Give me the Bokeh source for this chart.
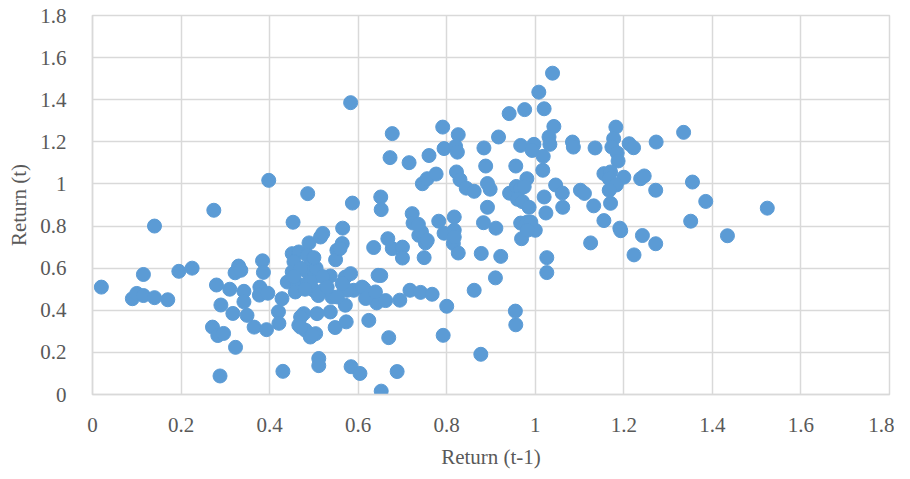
from bokeh.plotting import figure
from bokeh.models import FixedTicker, Range1d
from bokeh.embed import file_html
from bokeh.resources import INLINE

# Return (t-1) values
x_prev = [
    0.02, 0.09, 0.10, 0.115, 0.115, 0.14, 0.17, 0.14, 0.195, 0.225,
    0.274, 0.271, 0.283, 0.296, 0.28, 0.29, 0.31, 0.317, 0.323, 0.288,
    0.322, 0.33, 0.335, 0.342, 0.342, 0.349, 0.365, 0.393, 0.384, 0.386,
    0.378, 0.377, 0.396, 0.428, 0.42, 0.421, 0.43, 0.398, 0.486, 0.453,
    0.451, 0.466, 0.489, 0.515, 0.52, 0.455, 0.485, 0.492, 0.451, 0.44,
    0.462, 0.458, 0.485, 0.485, 0.5, 0.5, 0.492, 0.522, 0.537, 0.541,
    0.552, 0.549, 0.564, 0.565, 0.559, 0.571, 0.583, 0.568, 0.59, 0.575,
    0.571, 0.553, 0.609, 0.62, 0.613, 0.642, 0.635, 0.624, 0.645, 0.477,
    0.507, 0.537, 0.466, 0.481, 0.492, 0.504, 0.548, 0.573, 0.511, 0.511,
    0.584, 0.604, 0.652, 0.47, 0.47, 0.496, 0.617, 0.639, 0.662, 0.651,
    0.564, 0.47, 0.505, 0.52, 0.48, 0.51, 0.53, 0.455, 0.50,
    0.677, 0.70, 0.70, 0.749, 0.752, 0.737, 0.815, 0.826, 0.878, 0.922,
    0.969, 0.667, 0.794, 0.694, 0.717, 0.741, 0.767, 0.80, 0.862, 0.91,
    0.955, 0.956, 0.669, 0.792, 0.877, 0.688, 0.911, 1.0,
    0.583, 0.677, 0.672, 0.715, 0.791, 0.826, 0.794, 0.82, 0.824, 0.76,
    0.884, 0.917, 0.941, 0.976, 1.008, 1.039, 1.02, 1.042, 1.031, 1.033,
    0.967, 0.997, 0.993, 1.018, 1.017, 0.888, 0.956, 1.084, 1.086, 1.135,
    1.182, 1.177, 1.173, 1.185, 1.187, 1.212, 1.222, 1.273, 1.335, 0.745,
    0.756, 0.776, 0.822, 0.83, 0.844, 0.862, 0.892, 0.898, 0.942, 0.957,
    0.966, 0.981, 0.975, 0.96, 0.971, 0.986, 1.02, 1.024, 1.046, 1.061,
    1.062, 1.102, 1.111, 1.132, 1.155, 1.17, 1.155, 1.17, 1.167, 1.2,
    1.238, 1.246, 1.183, 1.167, 1.272, 1.355, 1.385, 1.524, 1.191, 1.193,
    1.351, 1.242, 1.272, 1.434, 1.223, 1.026, 1.026, 1.125, 0.651, 0.652,
    0.587, 0.743, 0.722, 0.724, 0.736, 0.782, 0.817, 0.883, 0.967, 0.982,
    0.892, 0.817, 0.817, 0.756, 0.978, 0.99, 0.982,
]

# Return (t) values
y_curr = [
    0.51, 0.455, 0.48, 0.47, 0.57, 0.46, 0.45, 0.80, 0.585, 0.60,
    0.875, 0.32, 0.28, 0.29, 0.52, 0.425, 0.50, 0.385, 0.224, 0.088,
    0.578, 0.61, 0.59, 0.49, 0.44, 0.376, 0.32, 0.308, 0.635, 0.58,
    0.51, 0.472, 0.481, 0.455, 0.393, 0.338, 0.11, 1.017, 0.954, 0.818,
    0.669, 0.677, 0.72, 0.748, 0.765, 0.63, 0.661, 0.614, 0.582, 0.534,
    0.527, 0.487, 0.527, 0.582, 0.558, 0.495, 0.534, 0.495, 0.563, 0.463,
    0.685, 0.64, 0.717, 0.79, 0.693, 0.558, 0.574, 0.51, 0.495, 0.495,
    0.424, 0.463, 0.51, 0.463, 0.503, 0.435, 0.698, 0.352, 0.566, 0.384,
    0.384, 0.392, 0.329, 0.305, 0.273, 0.289, 0.318, 0.345, 0.171, 0.137,
    0.132, 0.10, 0.016, 0.368, 0.32, 0.281, 0.456, 0.487, 0.446, 0.565,
    0.527, 0.60, 0.60, 0.56, 0.50, 0.47, 0.51, 0.56, 0.65,
    0.693, 0.70, 0.648, 0.65, 0.72, 0.756, 0.717, 0.672, 0.67, 0.656,
    0.74, 0.74, 0.766, 0.448, 0.495, 0.485, 0.476, 0.419, 0.495, 0.554,
    0.396, 0.331, 0.27, 0.281, 0.191, 0.109, 0.79, 0.78,
    1.386, 1.239, 1.125, 1.101, 1.27, 1.234, 1.168, 1.178, 1.151, 1.135,
    1.171, 1.223, 1.334, 1.353, 1.436, 1.526, 1.357, 1.273, 1.223, 1.188,
    1.183, 1.188, 1.159, 1.131, 1.065, 1.085, 1.085, 1.199, 1.175, 1.171,
    1.27, 1.215, 1.175, 1.147, 1.109, 1.191, 1.172, 1.199, 1.245, 1.001,
    1.025, 1.047, 1.057, 1.02, 0.98, 0.965, 1.002, 0.975, 0.956, 0.988,
    0.978, 1.025, 0.987, 0.927, 0.916, 0.889, 0.938, 0.862, 0.995, 0.957,
    0.889, 0.97, 0.955, 0.896, 0.826, 0.908, 1.049, 1.057, 1.025, 1.032,
    1.025, 1.038, 0.995, 0.97, 0.97, 1.009, 0.917, 0.885, 0.79, 0.778,
    0.823, 0.755, 0.716, 0.754, 0.663, 0.65, 0.579, 0.72, 0.938, 0.878,
    0.909, 0.772, 0.859, 0.814, 0.808, 0.823, 0.843, 0.816, 0.814, 0.819,
    0.889, 0.78, 0.748, 0.732, 0.803, 0.819, 0.78,
]

tick_values = [0, 0.2, 0.4, 0.6, 0.8, 1, 1.2, 1.4, 1.6, 1.8]
tick_labels = ["0", "0.2", "0.4", "0.6", "0.8", "1", "1.2", "1.4", "1.6", "1.8"]

FONT = "Liberation Serif"
GREY_TEXT = "#595959"
GRID = "#D9D9D9"

p = figure(
    width=894, height=471,
    x_range=Range1d(0, 1.8), y_range=Range1d(0, 1.8),
    output_backend="svg", toolbar_location=None,
    min_border_left=92, min_border_right=5,
    min_border_top=15, min_border_bottom=77,
)

p.scatter(x_prev, y_curr, size=14, color="#5B9BD5", line_color="#5B9BD5")

overrides = {v: l for v, l in zip(tick_values, tick_labels)}
for ax in (p.xaxis[0], p.yaxis[0]):
    ax.ticker = FixedTicker(ticks=tick_values)
    ax.major_label_overrides = overrides
    ax.major_label_text_font = FONT
    ax.major_label_text_font_size = "21px"
    ax.major_label_text_color = GREY_TEXT
    ax.axis_label_text_font = FONT
    ax.axis_label_text_font_size = "21px"
    ax.axis_label_text_font_style = "normal"
    ax.axis_label_text_color = GREY_TEXT
    ax.axis_line_color = GRID
    ax.axis_line_width = 1.5
    ax.major_tick_line_color = None
    ax.minor_tick_line_color = None

p.xaxis[0].axis_label = "Return (t-1)"
p.yaxis[0].axis_label = "Return (t)"
p.xaxis[0].major_label_standoff = 17
p.yaxis[0].major_label_standoff = 20
p.xaxis[0].axis_label_standoff = 10
p.yaxis[0].axis_label_standoff = 6

p.xgrid.ticker = FixedTicker(ticks=tick_values)
p.ygrid.ticker = FixedTicker(ticks=tick_values)
p.grid.grid_line_color = GRID
p.grid.grid_line_width = 1.5
p.outline_line_color = GRID
p.outline_line_width = 1.5
p.background_fill_color = "white"
p.border_fill_color = "white"

open("out.html", "w").write(file_html(p, INLINE))
